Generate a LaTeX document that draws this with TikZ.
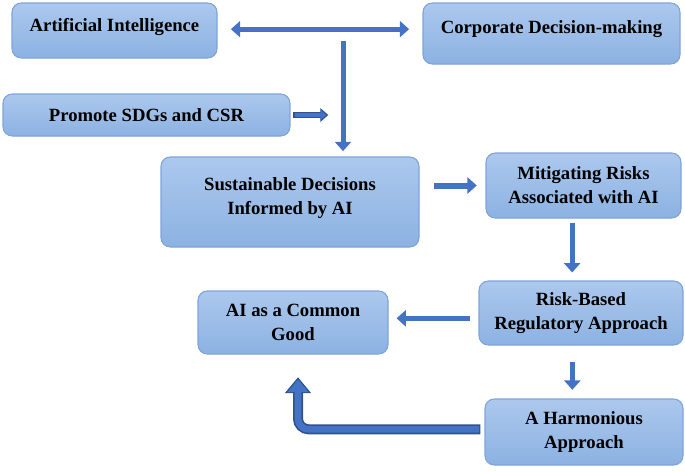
\documentclass[tikz,border=0pt]{standalone}
\usepackage{fontspec}
\setmainfont{Liberation Serif}
\usepackage{xcolor}
\usetikzlibrary{arrows.meta,positioning,calc}
\definecolor{boxTop}{RGB}{172,200,237}
\definecolor{boxBot}{RGB}{140,178,226}
\definecolor{boxLine}{RGB}{126,164,218}
\definecolor{arrB}{RGB}{68,114,196}
\definecolor{arrD}{RGB}{47,82,143}

\begin{document}
\begin{tikzpicture}[
  x=0.75pt,y=-0.75pt,
  box/.style={rectangle,rounded corners=7pt,draw=boxLine,line width=0.8pt,
    top color=boxTop,bottom color=boxBot,align=center,inner sep=2pt,
    font=\bfseries\fontsize{14}{18}\selectfont},
  fwd/.style={-{Triangle[length=7pt,width=12pt]},arrB,line width=4pt},
  both/.style={{Triangle[length=7pt,width=12pt]}-{Triangle[length=7pt,width=12pt]},arrB,line width=3.5pt},
]
  \useasboundingbox (0,0) rectangle (685,471);
  % ---------------- TOP ROW ----------------
  \node[box,minimum width=153.75pt,minimum height=41.25pt,text depth=9pt] (ai) at (114.5,30.5) {Artificial Intelligence};
  \node[box,minimum width=192.75pt,minimum height=45.75pt,text depth=9pt] (cdm) at (551.5,33.5) {Corporate Decision-making};
  \node[box,minimum width=215.25pt,minimum height=31.5pt] (sdg) at (146.5,115) {Promote SDGs and CSR};
  \coordinate (hub) at (343,41);
  \draw[both,shorten <=10pt,shorten >=10pt] ([yshift=1pt]ai.east) -- ([yshift=1pt]ai.east -| cdm.west);
  % ---------------- MIDDLE ----------------
  \node[box,minimum width=193.5pt,minimum height=67.5pt,text depth=9pt] (sdai) at (290,202) {Sustainable Decisions\\Informed by AI};
  \node[box,minimum width=146.25pt,minimum height=48.75pt] (mit) at (583.5,185.5) {Mitigating Risks\\Associated with AI};
  \draw[fwd,line width=3.75pt,shorten >=4pt] (hub) -- (hub |- sdai.north);
  \draw[line width=5pt,arrD,-{Triangle[length=6pt,width=10pt]},shorten <=2pt,shorten >=11pt] (sdg.east) -- (sdg.east -| hub);
  \draw[line width=3pt,arrB,-{Triangle[length=4.5pt,width=7pt]},shorten <=3pt,shorten >=12.3pt] (sdg.east) -- (sdg.east -| hub);
  \draw[fwd,line width=4.5pt,shorten <=10.5pt,shorten >=6.5pt] (sdai.east |- mit.west) -- (mit.west);
  % ---------------- BOTTOM ----------------
  \node[box,minimum width=142.5pt,minimum height=47.25pt] (good) at (293,322.5) {AI as a Common\\Good};
  \node[box,minimum width=153pt,minimum height=48pt] (risk) at (581,313) {Risk-Based\\Regulatory Approach};
  \node[box,minimum width=148.5pt,minimum height=49.5pt] (harm) at (584,432) {A Harmonious\\Approach};
  \draw[fwd,shorten <=3.5pt,shorten >=6pt] ([xshift=-8.5pt]mit.south) -- ([xshift=-8.5pt]mit.south |- risk.north);
  \draw[fwd,shorten <=6pt,shorten >=6pt] ([yshift=-4pt]risk.west) -- ([yshift=-4pt]risk.west -| good.east);
  \draw[fwd,line width=3.75pt,shorten <=12.5pt,shorten >=6.5pt] ([xshift=-6.5pt]risk.south) -- ([xshift=-6.5pt]risk.south |- harm.north);
  % bent arrow back up
  \coordinate (bend) at ([xshift=3.75pt,yshift=-17pt]good.south);
  \draw[arrD,line width=7.5pt,rounded corners=8pt,-{Triangle[length=12pt,width=19pt]},shorten <=3pt] ([yshift=2pt]harm.west) -| (bend);
  \draw[arrB,line width=5pt,rounded corners=8pt,-{Triangle[length=9.5pt,width=15pt]},shorten <=4pt,shorten >=1.6pt] ([yshift=2pt]harm.west) -| (bend);
\end{tikzpicture}
\end{document}
